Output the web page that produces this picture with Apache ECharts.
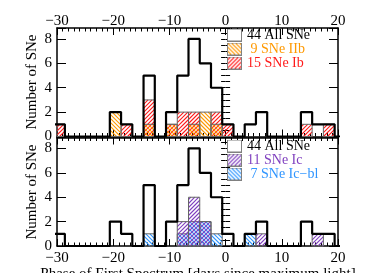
<!DOCTYPE html>
<html><head><meta charset="utf-8">
<script src="https://cdn.jsdelivr.net/npm/echarts@6/dist/echarts.min.js"></script>
<style>html,body{margin:0;padding:0;background:#fff}#c{width:378px;height:273px}</style>
</head><body><div id="c"></div>
<script>
// ---- data ----
const binEdges = [-30.6,-28.6,-26.6,-24.6,-22.6,-20.6,-18.6,-16.6,-14.6,-12.6,-10.6,-8.6,-6.6,-4.6,-2.6,-0.6,1.4,3.4,5.4,7.4,9.4,11.4,13.4,15.4,17.4,19.4];
const binWidth = 2;
const allSNe = [1,0,0,0,0,2,1,0,5,0,2,5,8,6,4,1,0,1,2,0,0,0,2,1,1,0];
const snIb   = [1,0,0,0,0,0,1,0,3,0,1,2,2,0,2,1,0,0,0,0,0,0,1,0,1,0];
const snIIb  = [0,0,0,0,0,2,0,0,1,0,1,0,1,2,1,0,0,0,0,0,0,0,0,0,0,0];
const snIc   = [0,0,0,0,0,0,0,0,0,0,0,2,4,2,0,0,0,0,1,0,0,0,0,1,0,0];
const snIcbl = [0,0,0,0,0,0,0,0,1,0,0,1,2,2,1,0,0,1,0,0,0,0,0,0,0,0];
const xMin = -30, xMax = 20, xStep = 10;
const yMin = 0, yMax = 8.9, yStep = 2;
const nameAll = '44 All SNe', nameIIb = ' 9 SNe IIb', nameIb = '15 SNe Ib';
const nameIc = '11 SNe Ic', nameIcbl = ' 7 SNe Ic\u2212bl';
const yTitle = 'Number of SNe';
const xTitle = 'Phase of First Spectrum [days since maximum light]';

// ---- styles ----
const FONT = 'Liberation Serif';
const cOrange = '#ff9900', cRed = '#ff1a1a', cPurple = '#7f3fbf', cBlue = '#2f95ff';
const HATCH = 4;
const hatchDef = {};
hatchDef[nameIb] = [cRed, 1]; hatchDef[nameIIb] = [cOrange, -1];
hatchDef[nameIc] = [cPurple, 1]; hatchDef[nameIcbl] = [cBlue, -1];

// diagonal hatch segments inside rect r (absolute pixel anchoring so overlaps cross-hatch)
function hatchSegments(r, dir) {
  const segs = [];
  const x1 = r.x, x2 = r.x + r.width, y1 = r.y, y2 = r.y + r.height;
  if (dir > 0) { // '/' : x + y = c
    const cMin = Math.ceil((x1 + y1) / HATCH) * HATCH, cMax = x2 + y2;
    for (let c = cMin; c <= cMax; c += HATCH) {
      const xa = Math.max(x1, c - y2), xb = Math.min(x2, c - y1);
      if (xb > xa) segs.push([xa, c - xa, xb, c - xb]);
    }
  } else { // '\' : y - x = c
    const cMin = Math.ceil((y1 - x2) / HATCH) * HATCH, cMax = y2 - x1;
    for (let c = cMin; c <= cMax; c += HATCH) {
      const xa = Math.max(x1, y1 - c), xb = Math.min(x2, y2 - c);
      if (xb > xa) segs.push([xa, xa + c, xb, xb + c]);
    }
  }
  return segs;
}

function legendIcon(name) {
  const w = 15, h = 13;
  const cv = document.createElement('canvas'); cv.width = w; cv.height = h;
  const ctx = cv.getContext('2d');
  ctx.fillStyle = '#fff'; ctx.fillRect(0, 0, w, h);
  const def = hatchDef[name];
  if (def) {
    ctx.strokeStyle = def[0]; ctx.lineWidth = 1.1;
    hatchSegments({x: 0, y: 0, width: w, height: h}, def[1]).forEach(s => {
      ctx.beginPath(); ctx.moveTo(s[0], s[1]); ctx.lineTo(s[2], s[3]); ctx.stroke();
    });
  }
  ctx.strokeStyle = '#808080'; ctx.lineWidth = 1; ctx.strokeRect(0.5, 0.5, w - 1, h - 1);
  return 'image://' + cv.toDataURL();
}

function minus(v) { return v < 0 ? '\u2212' + Math.abs(v) : String(v); }

function histSeries(name, counts, gi) {
  const def = hatchDef[name];
  return {
    type: 'custom', name: name, xAxisIndex: gi * 2, yAxisIndex: gi * 4,
    itemStyle: {color: def[0]},
    encode: {x: 0, y: 1},
    data: binEdges.map((e, i) => [e, counts[i]]).filter(d => d[1] > 0),
    renderItem: function (params, api) {
      const x0 = api.value(0), c = api.value(1);
      const p0 = api.coord([x0, 0]), p1 = api.coord([x0 + binWidth, c]);
      const cs = params.coordSys;
      const shape = echarts.graphic.clipRectByRect(
        {x: p0[0], y: p1[1], width: p1[0] - p0[0], height: p0[1] - p1[1]},
        {x: cs.x, y: cs.y, width: cs.width, height: cs.height});
      if (!shape) return null;
      const children = hatchSegments(shape, def[1]).map(s => ({
        type: 'line', shape: {x1: s[0], y1: s[1], x2: s[2], y2: s[3]},
        style: {stroke: def[0], lineWidth: 1.1}
      }));
      children.push({type: 'rect', shape: shape, style: {fill: null, stroke: '#666', lineWidth: 1}});
      return {type: 'group', children: children};
    },
    z: 2
  };
}
function stepSeries(gi) {
  const pts = binEdges.map((e, i) => [e, allSNe[i]]);
  pts.push([binEdges[binEdges.length - 1] + binWidth, allSNe[allSNe.length - 1]]);
  return {type: 'line', name: nameAll, xAxisIndex: gi * 2, yAxisIndex: gi * 4, step: 'end',
    symbol: 'none', data: pts, clip: true, lineStyle: {color: '#000', width: 2.2},
    itemStyle: {color: '#000'}, z: 5};
}

const axisLine = {show: true, onZero: false, lineStyle: {color: '#000', width: 1.5}};
function xAx(gi, pos, labels) {
  return {type: 'value', gridIndex: gi, position: pos, min: xMin, max: xMax, interval: xStep,
    axisLine: axisLine,
    axisTick: {show: true, inside: true, length: 7, lineStyle: {color: '#000', width: 1}},
    minorTick: {show: true, splitNumber: 10, length: 3.5, lineStyle: {color: '#000', width: 1}},
    splitLine: {show: false}, minorSplitLine: {show: false},
    axisLabel: {show: labels, margin: pos === 'top' ? -1 : 5, color: '#000', fontFamily: FONT, fontSize: 15, formatter: minus}};
}
function yAx(gi, pos, major, labels) {
  return {type: 'value', gridIndex: gi, position: pos, min: yMin, max: yMax, interval: major ? yStep : 0.5,
    axisLine: major ? axisLine : {show: false},
    axisTick: {show: true, inside: true, length: major ? 9 : 4.5, lineStyle: {color: '#000', width: 1}},
    splitLine: {show: false},
    axisLabel: {show: labels, margin: 5, color: '#000', fontFamily: FONT, fontSize: 15,
      formatter: v => (v % 2 === 0 ? String(v) : '')}};
}
function legendItem(name, color) {
  return {name: name, icon: legendIcon(name), textStyle: {color: color}};
}
function legendBox(top, items) {
  return {orient: 'vertical', left: 227, top: top, itemWidth: 15, itemHeight: 13, itemGap: 0, padding: 0,
    selectedMode: false, textStyle: {fontFamily: FONT, fontSize: 14, lineHeight: 13},
    data: items};
}
const titleStyle = {fill: '#000', font: '15px "Liberation Serif"'};

const chart = echarts.init(document.getElementById('c'), null, {renderer: 'canvas'});
chart.setOption({
  animation: false,
  backgroundColor: '#fff',
  grid: [{left: 57, width: 281, top: 28, height: 108.5}, {left: 57, width: 281, top: 137.5, height: 108.5}],
  xAxis: [xAx(0, 'top', true), xAx(0, 'bottom', false), xAx(1, 'top', false), xAx(1, 'bottom', true)],
  yAxis: [yAx(0, 'left', true, true), yAx(0, 'left', false, false), yAx(0, 'right', true, false), yAx(0, 'right', false, false),
          yAx(1, 'left', true, true), yAx(1, 'left', false, false), yAx(1, 'right', true, false), yAx(1, 'right', false, false)],
  legend: [
    legendBox(28, [legendItem(nameAll, '#000'), legendItem(nameIIb, cOrange), legendItem(nameIb, cRed)]),
    legendBox(139, [legendItem(nameAll, '#000'), legendItem(nameIc, cPurple), legendItem(nameIcbl, cBlue)])
  ],
  graphic: [
    {type: 'text', x: 32, y: 82, rotation: Math.PI / 2, style: Object.assign({text: yTitle, align: 'center', verticalAlign: 'middle'}, titleStyle)},
    {type: 'text', x: 32, y: 192, rotation: Math.PI / 2, style: Object.assign({text: yTitle, align: 'center', verticalAlign: 'middle'}, titleStyle)},
    {type: 'text', x: 198, y: 267, style: Object.assign({text: xTitle, align: 'center', verticalAlign: 'top'}, titleStyle)}
  ],
  series: [
    histSeries(nameIb, snIb, 0), histSeries(nameIIb, snIIb, 0), stepSeries(0),
    histSeries(nameIcbl, snIcbl, 1), histSeries(nameIc, snIc, 1), stepSeries(1)
  ]
});
</script></body></html>
